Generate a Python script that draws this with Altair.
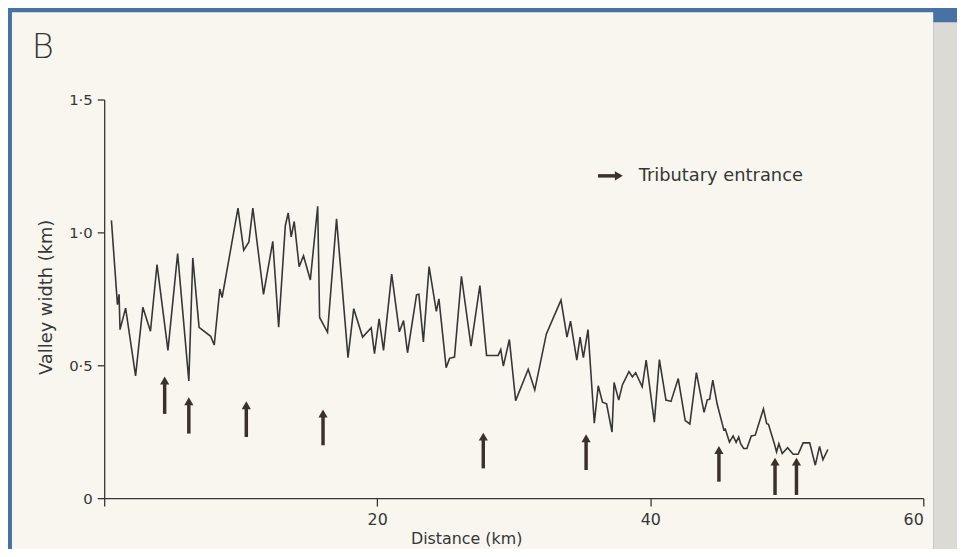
import altair as alt
import pandas as pd

distance_km = [0.53, 0.92, 0.97, 1.09, 1.16, 1.57, 2.30, 2.83, 3.39, 3.87, 4.67, 5.38, 6.20, 6.49,
               6.95, 7.80, 8.06, 8.47, 8.64, 9.80, 10.22, 10.60, 10.89, 11.67, 12.35, 12.78, 13.27,
               13.48, 13.70, 13.92, 14.28, 14.60, 15.10, 15.64, 15.78, 16.36, 17.02, 17.86, 18.28,
               18.93, 19.56, 19.80, 20.14, 20.46, 21.06, 21.62, 21.93, 22.22, 22.88, 23.05, 23.38,
               23.80, 24.33, 24.52, 25.05, 25.30, 25.66, 26.17, 26.87, 27.52, 28.01, 28.86, 29.05,
               29.24, 29.68, 30.14, 31.06, 31.54, 32.39, 33.46, 33.90, 34.16, 34.62, 34.86, 35.10,
               35.44, 35.90, 36.19, 36.50, 36.80, 37.20, 37.35, 37.69, 37.96, 38.44, 38.69, 38.93,
               39.41, 39.70, 40.30, 40.67, 41.15, 41.52, 42.05, 42.56, 42.90, 43.38, 43.94, 44.18,
               44.35, 44.58, 44.90, 45.39, 45.50, 45.80, 46.07, 46.29, 46.48, 46.62, 46.84, 47.08,
               47.40, 47.69, 48.29, 48.53, 48.66, 49.09, 49.25, 49.42, 49.67, 50.06, 50.47, 50.83,
               51.20, 51.68, 52.09, 52.40, 52.65, 53.01]
valley_width = [1.045, 0.765, 0.728, 0.767, 0.634, 0.715, 0.46, 0.718, 0.628, 0.879, 0.556, 0.92,
                0.441, 0.904, 0.643, 0.609, 0.576, 0.787, 0.755, 1.091, 0.933, 0.964, 1.091, 0.767,
                0.966, 0.643, 1.026, 1.073, 0.983, 1.041, 0.871, 0.912, 0.821, 1.098, 0.68, 0.624,
                1.051, 0.529, 0.713, 0.606, 0.641, 0.544, 0.675, 0.556, 0.843, 0.626, 0.668, 0.547,
                0.765, 0.767, 0.588, 0.871, 0.703, 0.75, 0.491, 0.526, 0.531, 0.835, 0.572, 0.80,
                0.537, 0.537, 0.559, 0.497, 0.597, 0.367, 0.485, 0.407, 0.618, 0.745, 0.606, 0.666,
                0.519, 0.606, 0.529, 0.634, 0.282, 0.423, 0.361, 0.355, 0.249, 0.435, 0.369, 0.426,
                0.476, 0.456, 0.472, 0.419, 0.519, 0.286, 0.521, 0.369, 0.364, 0.45, 0.292, 0.279,
                0.472, 0.323, 0.37, 0.372, 0.444, 0.354, 0.257, 0.26, 0.211, 0.234, 0.21, 0.23,
                0.205, 0.187, 0.187, 0.234, 0.237, 0.336, 0.28, 0.278, 0.205, 0.174, 0.205, 0.168,
                0.19, 0.165, 0.165, 0.208, 0.208, 0.124, 0.195, 0.145, 0.183]

# Tributary entrances (arrows)
arrow_km = [4.43, 6.20, 10.41, 16.03, 27.77, 35.30, 45.03, 49.14, 50.71]
arrow_tip = [0.435, 0.357, 0.342, 0.311, 0.224, 0.218, 0.174, 0.13, 0.13]
arrow_tail = [0.317, 0.243, 0.23, 0.199, 0.112, 0.106, 0.062, 0.012, 0.012]

x_ticks = [0, 20, 40, 60]
y_ticks = [0, 0.5, 1.0, 1.5]

FONT = "DejaVu Sans"
INK = "#363636"
ARROW = "#3b302c"
PAGE = "#f8f6ee"
BLUE = "#4672a4"

W, H = 826, 402

line_df = pd.DataFrame({"d": distance_km, "w": valley_width})
arrow_df = pd.DataFrame({"d": arrow_km, "tip": arrow_tip, "tail": arrow_tail})
one = pd.DataFrame({"k": [0]})

xscale = alt.Scale(domain=[0, 60], nice=False, zero=False)
yscale = alt.Scale(domain=[0, 1.5], nice=False)

xaxis = alt.Axis(values=x_ticks, title="Distance (km)", grid=False,
                 labelExpr="datum.value == 0 ? '' : datum.label",
                 tickSize=8, labelPadding=6, labelFontSize=16, titleFontSize=16,
                 titleX=365, titleY=41, titleAlign="center", titleBaseline="middle",
                 titleFontWeight="normal", zindex=2)
yaxis = alt.Axis(values=y_ticks, title="Valley width (km)", grid=False,
                 labelExpr="datum.value == 0 ? '0' : replace(format(datum.value, '.1f'), '.', '·')",
                 tickSize=7, labelPadding=5, labelFontSize=15, titleFontSize=18,
                 titleX=-58, titleY=199, titleAlign="center", titleBaseline="middle",
                 titleAngle=270, titleFontWeight="normal", zindex=2)

page = alt.Chart(one).mark_rect(color=PAGE).encode(
    x=alt.value(-93), x2=alt.value(836), y=alt.value(-88), y2=alt.value(470))
shade = alt.Chart(one).mark_rect(color="#dcdad5").encode(
    x=alt.value(836), x2=alt.value(860), y=alt.value(-78), y2=alt.value(470))

line = alt.Chart(line_df).mark_line(color=INK, strokeWidth=1.6, strokeJoin="miter").encode(
    x=alt.X("d:Q", scale=xscale, axis=xaxis),
    y=alt.Y("w:Q", scale=yscale, axis=yaxis),
)

shafts = alt.Chart(arrow_df).mark_rule(color=ARROW, strokeWidth=3.5).encode(
    x=alt.X("d:Q", scale=xscale),
    y=alt.Y("tail:Q", scale=yscale),
    y2="tip:Q",
)
heads = alt.Chart(arrow_df).mark_point(shape="triangle-up", filled=True, size=85,
                                       color=ARROW, opacity=1, yOffset=-2).encode(
    x=alt.X("d:Q", scale=xscale),
    y=alt.Y("tip:Q", scale=yscale),
)

leg_shaft = alt.Chart(one).mark_rule(color=ARROW, strokeWidth=3.5).encode(
    x=alt.value(498), x2=alt.value(516), y=alt.value(77))
leg_head = alt.Chart(one).mark_point(shape="triangle-right", filled=True, size=85,
                                     color=ARROW, opacity=1).encode(
    x=alt.value(519), y=alt.value(77))
leg_text = alt.Chart(one).mark_text(text="Tributary entrance", align="left", baseline="middle",
                                    font=FONT, fontSize=18, color=INK).encode(
    x=alt.value(539), y=alt.value(77))

panel = alt.Chart(one).mark_text(text="B", align="left", baseline="alphabetic",
                                 font=FONT, fontSize=34, fontWeight=300, color=INK).encode(
    x=alt.value(-73), y=alt.value(-42))

chart = alt.layer(page, shade, line, shafts, heads, leg_shaft, leg_head, leg_text, panel).properties(
    width=W, height=H,
    autosize=alt.AutoSizeParams(type="none"),
    padding={"left": 97, "top": 90, "right": 34, "bottom": 49},
    background=BLUE,
).configure_view(stroke=None).configure_axis(
    domainColor=INK, tickColor=INK, labelColor=INK, titleColor=INK,
    domainWidth=1.3, tickWidth=1.3, labelFont=FONT, titleFont=FONT,
)

chart.save("out.html", embed_options={"renderer": "svg", "actions": False})
